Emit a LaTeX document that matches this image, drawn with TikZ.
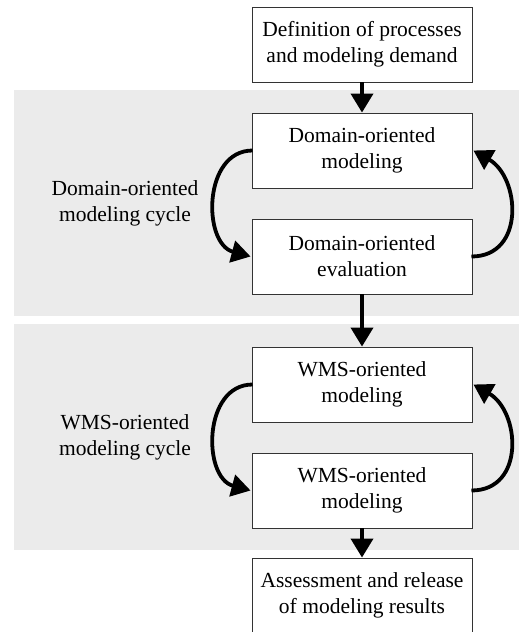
\documentclass[tikz,border=0pt]{standalone}
\usepackage{fontspec}
\setmainfont{Liberation Serif}
\usetikzlibrary{arrows.meta}
\definecolor{bandgray}{HTML}{EBEBEB}
\definecolor{boxline}{HTML}{333333}
\begin{document}
\begin{tikzpicture}[x=1pt,y=-1pt,
  stepbox/.style={draw=boxline,line width=0.9pt,fill=white,minimum width=220pt,minimum height=75pt,
     align=center,inner sep=0pt,font=\fontsize{21.5}{26}\selectfont},
  lbl/.style={align=center,font=\fontsize{21.5}{26}\selectfont},
  flow/.style={line width=3.8pt,-{Triangle[length=19pt,width=22pt]}},
  cyc/.style={line width=3.8pt,-{Triangle[length=19pt,width=22pt]}}]
\useasboundingbox (0,0) rectangle (519,632);
\fill[bandgray] (14,90) rectangle (519,316);
\fill[bandgray] (14,324) rectangle (519,550);
\node[stepbox] (b1) at (362,44.5) {Definition of processes\\and modeling demand};
\node[stepbox] (b2) at (362,150.5) {Domain-oriented\\modeling};
\node[stepbox] (b3) at (362,256.5) {Domain-oriented\\evaluation};
\node[stepbox] (b4) at (362,384.5) {WMS-oriented\\modeling};
\node[stepbox] (b5) at (362,490.5) {WMS-oriented\\modeling};
\node[stepbox,minimum height=74pt] (b6) at (362,595) {Assessment and release\\of modeling results};
\node[lbl] (l1) at (125,203) {Domain-oriented\\modeling cycle};
\node[lbl] (l2) at (125,437) {WMS-oriented\\modeling cycle};
\draw[flow] (b1.south) -- (b2.north);
\draw[flow] (b3.south) -- (b4.north);
\draw[flow] (b5.south) -- (b6.north);
\draw[cyc] ([xshift=1pt]b2.west) to[out=180,in=165,looseness=1.2] ([xshift=-1pt]b3.west);
\draw[cyc] ([xshift=-1pt]b3.east) to[out=0,in=-30,looseness=1.3] ([xshift=1pt]b2.east);
\draw[cyc] ([xshift=1pt]b4.west) to[out=180,in=165,looseness=1.2] ([xshift=-1pt]b5.west);
\draw[cyc] ([xshift=-1pt]b5.east) to[out=0,in=-30,looseness=1.3] ([xshift=1pt]b4.east);
\end{tikzpicture}
\end{document}
